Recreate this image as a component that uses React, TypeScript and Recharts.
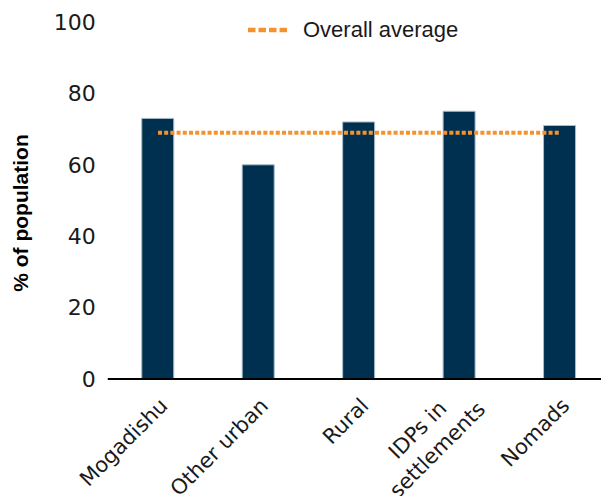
import React from 'react'
import { ComposedChart, Bar, Line, XAxis, YAxis } from 'recharts'

const categories = ['Mogadishu', 'Other urban', 'Rural', 'IDPs in\nsettlements', 'Nomads']
const shares = [73, 60, 72, 75, 71]
const overallAverage = [69, 69, 69, 69, 69]
const yTicks = [0, 20, 40, 60, 80, 100]

const BAR = '#00304f'
const ORANGE = '#f5922f'

const data = categories.map((name, i) => ({
  name,
  share: shares[i],
  avg: overallAverage[i],
}))

function CategoryTick(props: any) {
  const { x, y, payload } = props
  const lines: string[] = String(payload.value).split('\n')
  const multi = lines.length > 1
  const lh = 28
  return (
    <g transform={`translate(${x + 11},${y + 20})`}>
      <text
        transform="rotate(-45)"
        textAnchor={multi ? 'middle' : 'end'}
        fontSize={21}
        fontFamily="DejaVu Sans"
        fill="#1a1a1a"
      >
        {lines.map((l, i) => (
          <tspan key={i} x={multi ? -53.5 : 0} y={multi ? (i - (lines.length - 1) / 2) * lh : 0}>
            {l}
          </tspan>
        ))}
      </text>
    </g>
  )
}

function YLabel() {
  return (
    <text
      x={28}
      y={213}
      transform="rotate(-90, 28, 213)"
      textAnchor="middle"
      fontSize={21}
      fontWeight="bold"
      fontFamily="Liberation Sans"
      fill="#000"
    >
      % of population
    </text>
  )
}

export default function App() {
  return (
    <div style={{ position: 'absolute', left: 0, top: 0, width: 601, height: 496, overflow: 'hidden', background: '#fff' }}>
      <svg width={601} height={60} style={{ position: 'absolute', left: 0, top: 0 }}>
        <line x1={248} x2={287} y1={30} y2={30} stroke={ORANGE} strokeWidth={4.5} strokeDasharray="7.5 3" />
        <text x={303} y={37} fontSize={22} fontFamily="Liberation Sans" fill="#1a1a1a">
          Overall average
        </text>
      </svg>
      <ComposedChart
        width={611}
        height={496}
        data={data}
        margin={{ top: 22, right: 1, bottom: 0, left: 0 }}
        style={{ position: 'absolute', left: 0, top: 0 }}
      >
        <XAxis
          dataKey="name"
          interval={0}
          axisLine={{ stroke: '#000', strokeWidth: 2 }}
          tickLine={false}
          tick={<CategoryTick />}
          height={117}
        />
        <YAxis
          domain={[0, 100]}
          ticks={yTicks}
          width={107.75}
          axisLine={false}
          tickLine={false}
          tickMargin={6}
          tick={{ fontSize: 22, fontFamily: 'DejaVu Sans', fill: '#1a1a1a' }}
        />
        <Bar dataKey="share" fill={BAR} stroke="#a9bccb" strokeWidth={1} barSize={32} isAnimationActive={false} />
        <Line
          dataKey="avg"
          stroke={ORANGE}
          strokeWidth={4}
          strokeDasharray="4 2.2"
          dot={false}
          activeDot={false}
          isAnimationActive={false}
        />
      </ComposedChart>
      <svg width={60} height={496} style={{ position: 'absolute', left: 0, top: 0 }}>
        <YLabel />
      </svg>
    </div>
  )
}
